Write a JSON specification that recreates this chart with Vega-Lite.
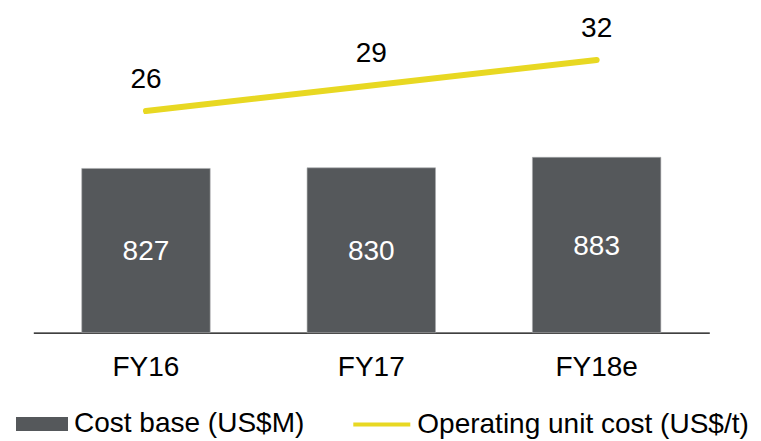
{
  "$schema": "https://vega.github.io/schema/vega-lite/v6.json",
  "width": 676,
  "height": 332.7,
  "autosize": {"type": "none"},
  "padding": {"left": 33.3, "top": 0, "right": 51.7, "bottom": 108.3},
  "background": "white",
  "config": {"view": {"stroke": null}, "font": "Liberation Sans"},
  "data": {
    "values": [
      {"year": "FY16", "cost": 827, "unit": 26},
      {"year": "FY17", "cost": 830, "unit": 29},
      {"year": "FY18e", "cost": 883, "unit": 32}
    ]
  },
  "encoding": {
    "x": {
      "field": "year",
      "type": "nominal",
      "sort": null,
      "scale": {"paddingInner": 0.43, "paddingOuter": 0.215},
      "axis": {
        "title": null,
        "labelAngle": 0,
        "ticks": false,
        "domainColor": "#000000",
        "domainWidth": 1.3,
        "labelFontSize": 28,
        "labelColor": "#000000",
        "labelFont": "Liberation Sans",
        "labelPadding": 21
      }
    }
  },
  "layer": [
    {
      "mark": {"type": "bar", "stroke": "#a9abad", "strokeWidth": 0.6},
      "encoding": {
        "y": {"field": "cost", "type": "quantitative", "scale": {"domain": [0, 1675]}, "axis": null},
        "fill": {
          "datum": "Cost base (US$M)",
          "type": "nominal",
          "scale": {"domain": ["Cost base (US$M)"], "range": ["#55585b"]},
          "legend": {
            "orient": "none",
            "legendX": -17.3,
            "legendY": 398,
            "title": null,
            "padding": 0,
            "symbolType": "M-1,-0.27H1V0.27H-1Z",
            "symbolSize": 2704,
            "symbolStrokeWidth": 0,
            "labelFontSize": 28,
            "labelFont": "Liberation Sans",
            "labelColor": "#000000",
            "labelOffset": 6,
            "labelLimit": 0
          }
        }
      }
    },
    {
      "mark": {"type": "text", "color": "#ffffff", "fontSize": 28, "baseline": "middle", "dy": 1.5, "font": "Liberation Sans"},
      "encoding": {
        "y": {"field": "cost", "type": "quantitative", "scale": {"domain": [0, 3350]}, "axis": null},
        "text": {"field": "cost", "type": "quantitative"}
      }
    },
    {
      "mark": {"type": "line", "strokeWidth": 6, "strokeCap": "round"},
      "encoding": {
        "y": {"field": "unit", "type": "quantitative", "scale": {"domain": [0, 39.03]}, "axis": null},
        "stroke": {
          "datum": "Operating unit cost (US$/t)",
          "type": "nominal",
          "scale": {"domain": ["Operating unit cost (US$/t)"], "range": ["#e8d822"]},
          "legend": {
            "orient": "none",
            "legendX": 318,
            "legendY": 394,
            "title": null,
            "padding": 0,
            "symbolType": "stroke",
            "symbolSize": 3249,
            "symbolStrokeWidth": 4,
            "labelFontSize": 28,
            "labelFont": "Liberation Sans",
            "labelColor": "#000000",
            "labelOffset": 5,
            "labelLimit": 0
          }
        }
      }
    },
    {
      "mark": {"type": "text", "color": "#000000", "fontSize": 28, "baseline": "alphabetic", "dy": -23, "font": "Liberation Sans"},
      "encoding": {
        "y": {"field": "unit", "type": "quantitative", "scale": {"domain": [0, 39.03]}, "axis": null},
        "text": {"field": "unit", "type": "quantitative"}
      }
    }
  ],
  "resolve": {"scale": {"y": "independent", "fill": "independent", "stroke": "independent"}}
}
